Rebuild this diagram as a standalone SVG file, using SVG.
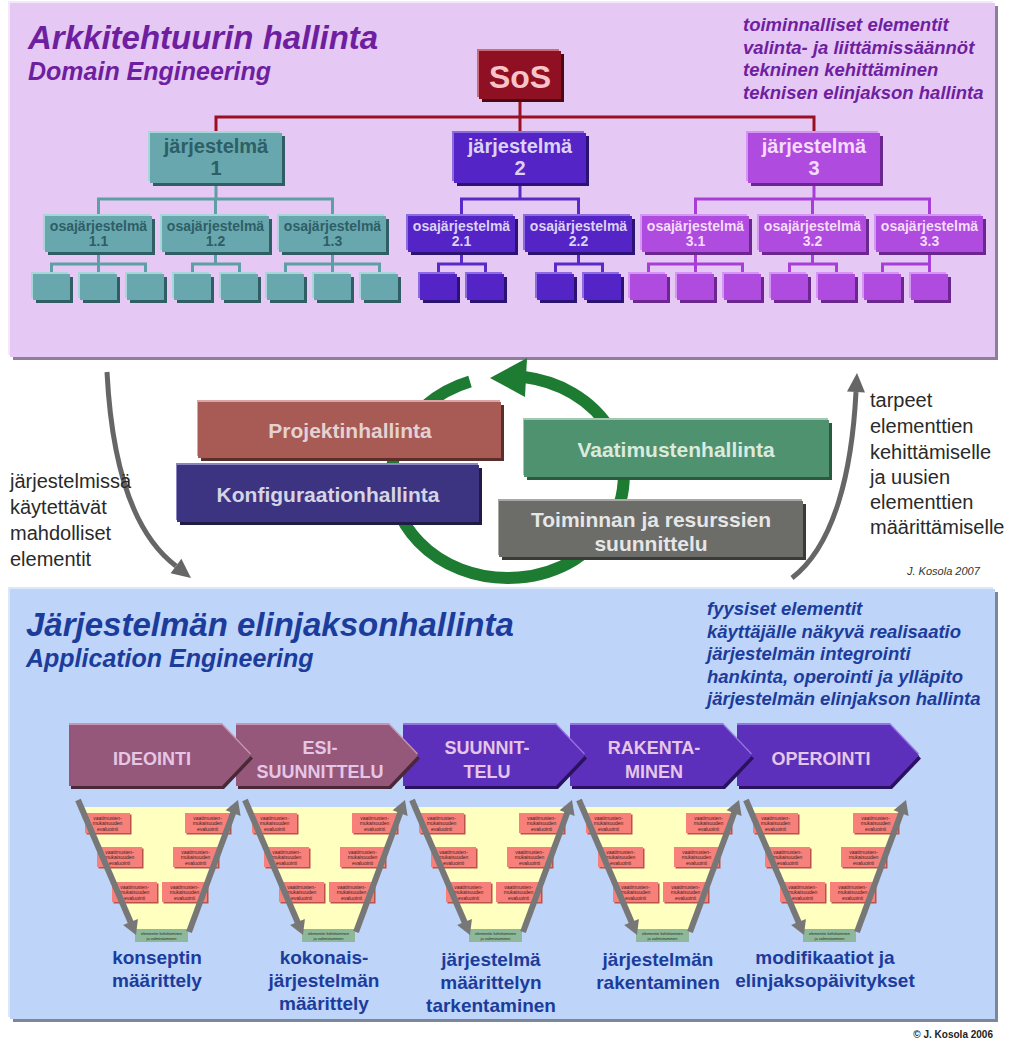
<svg xmlns="http://www.w3.org/2000/svg" xmlns:xlink="http://www.w3.org/1999/xlink" width="1012" height="1042" viewBox="0 0 1012 1042">
<style>
  text { font-family: 'Liberation Sans', Arial, sans-serif; }
  .title { font-size: 33px; font-weight: bold; font-style: italic; }
  .subtitle { font-size: 25px; font-weight: bold; font-style: italic; }
  .notes { font-size: 18.5px; font-weight: bold; font-style: italic; }
  .dom { fill: #6E1FA0; }
  .app { fill: #1C3C9C; }
  .sysl { font-size: 20px; font-weight: bold; text-anchor: middle; }
  .subl { font-size: 14px; font-weight: bold; text-anchor: middle; }
  .dark1 { fill: #2E5E66; }
  .light2 { fill: #DCD2F6; }
  .light3 { fill: #F4DCFA; }
  .f1 { fill: #68A7AD; } .h1 { fill: #A6D6D8; } .s1 { fill: #315E64; }
  .f2 { fill: #5524C6; } .h2 { fill: #8B6CE0; } .s2 { fill: #2C1272; }
  .f3 { fill: #B04BE0; } .h3 { fill: #D396F2; } .s3 { fill: #6C2690; }
  .c1 { stroke: #5E9FA6; } .c2 { stroke: #5A2AC8; } .c3 { stroke: #A83ED8; }
  .conn path { fill: none; stroke-width: 3; }
  .mbox { font-size: 21px; font-weight: bold; text-anchor: middle; }
  .side { font-size: 20px; fill: #2A2A2A; }
  .phase { font-size: 18px; font-weight: bold; text-anchor: middle; fill: #E6C6E6; }
  .res { font-size: 19px; font-weight: bold; text-anchor: middle; fill: #1C3C9C; }
  .tiny { font-size: 5px; text-anchor: middle; fill: #402020; }
  .tiny2 { font-size: 4px; text-anchor: middle; fill: #203020; }
  .grayarrow { fill: none; stroke: #666666; stroke-width: 5; }
</style>
<defs>
  <!-- bevelled leaf boxes, one per system colour -->
  <g id="leaf1"><rect class="s1" x="3" y="3" width="37" height="26"/><rect class="h1" x="-2" y="-2" width="37" height="26"/><rect class="f1" width="37" height="26"/></g>
  <g id="leaf2"><rect class="s2" x="3" y="3" width="37" height="26"/><rect class="h2" x="-2" y="-2" width="37" height="26"/><rect class="f2" width="37" height="26"/></g>
  <g id="leaf3"><rect class="s3" x="3" y="3" width="37" height="26"/><rect class="h3" x="-2" y="-2" width="37" height="26"/><rect class="f3" width="37" height="26"/></g>
  <!-- bevelled subsystem boxes -->
  <g id="sub1"><rect class="s1" x="3" y="3" width="107" height="36"/><rect class="h1" x="-2" y="-2" width="107" height="36"/><rect class="f1" width="107" height="36"/></g>
  <g id="sub2"><rect class="s2" x="3" y="3" width="107" height="36"/><rect class="h2" x="-2" y="-2" width="107" height="36"/><rect class="f2" width="107" height="36"/></g>
  <g id="sub3"><rect class="s3" x="3" y="3" width="107" height="36"/><rect class="h3" x="-2" y="-2" width="107" height="36"/><rect class="f3" width="107" height="36"/></g>
  <!-- evaluation box used inside each funnel -->
  <g id="evalbox">
    <rect x="1.5" y="1.5" width="45" height="20" fill="#B8524A"/>
    <rect width="45" height="20" fill="#F8807A"/>
    <text class="tiny"><tspan x="22.5" y="6.5">vaatimusten-</tspan><tspan x="22.5" y="12">mukaisuuden</tspan><tspan x="22.5" y="17.5">evaluointi</tspan></text>
  </g>
  <!-- one verification funnel (V shape) -->
  <g id="funnel">
    <polygon points="84,807 238,807 189,930 134,930" fill="#FFFFC0"/>
    <use xlink:href="#evalbox" x="85" y="813"/>
    <use xlink:href="#evalbox" x="185" y="813"/>
    <use xlink:href="#evalbox" x="97" y="847"/>
    <use xlink:href="#evalbox" x="173" y="847"/>
    <use xlink:href="#evalbox" x="112" y="882"/>
    <use xlink:href="#evalbox" x="162" y="882"/>
    <rect x="135" y="929" width="53" height="13" fill="#8FB89A"/>
    <text class="tiny2"><tspan x="161.5" y="934.5">elementin kehittäminen</tspan><tspan x="161.5" y="940">ja valmistaminen</tspan></text>
    <path d="M78,800 L131,923" stroke="#777" stroke-width="6" fill="none"/>
    <polygon points="136,935 123.1,925.1 137.9,918.9" fill="#777"/>
    <path d="M189,932 L233.5,812" stroke="#777" stroke-width="6" fill="none"/>
    <polygon points="238,800 240.6,815.9 225.6,810.3" fill="#777"/>
  </g>
  <!-- phase chevrons -->
  <g id="chev-m">
    <path d="M2,3 H155 L184,33.5 L155,64 H2 Z" fill="#4A2838"/>
    <path d="M0,-2 H153 L182,28.5 L153,59 H0 Z" fill="#C496B0"/>
    <path d="M0,0 H153 L182,30.5 L153,61 H0 Z" fill="#95587A"/>
  </g>
  <g id="chev-p">
    <path d="M2,3 H155 L184,33.5 L155,64 H2 Z" fill="#2A1260"/>
    <path d="M0,-2 H153 L182,28.5 L153,59 H0 Z" fill="#9474E0"/>
    <path d="M0,0 H153 L182,30.5 L153,61 H0 Z" fill="#5C30BA"/>
  </g>
</defs>

<rect width="1012" height="1042" fill="#FFFFFF"/>

<!-- Domain engineering panel -->
<g id="panel-domain">
  <rect x="13" y="6" width="985" height="354" fill="#8E7E9E"/>
  <rect x="8" y="1" width="985" height="354" fill="#F4E8FA"/>
  <rect x="10" y="3" width="985" height="354" fill="#E6C8F5"/>
  <text class="title dom" x="28" y="49">Arkkitehtuurin hallinta</text>
  <text class="subtitle dom" x="28" y="80">Domain Engineering</text>
  <text class="notes dom">
    <tspan x="743" y="31">toiminnalliset elementit</tspan>
    <tspan x="743" y="54">valinta- ja liittämissäännöt</tspan>
    <tspan x="743" y="76">tekninen kehittäminen</tspan>
    <tspan x="743" y="99">teknisen elinjakson hallinta</tspan>
  </text>
</g>

<!-- Application engineering panel -->
<g id="panel-application">
  <rect x="13" y="592" width="985" height="430" fill="#7C8898"/>
  <rect x="8" y="587" width="985" height="430" fill="#DCE8FA"/>
  <rect x="10" y="589" width="985" height="430" fill="#BED4F8"/>
  <text class="title app" x="26" y="636">Järjestelmän elinjaksonhallinta</text>
  <text class="subtitle app" x="26" y="667">Application Engineering</text>
  <text class="notes app">
    <tspan x="707" y="615">fyysiset elementit</tspan>
    <tspan x="707" y="637.5">käyttäjälle näkyvä realisaatio</tspan>
    <tspan x="707" y="660">järjestelmän integrointi</tspan>
    <tspan x="707" y="682.5">hankinta, operointi ja ylläpito</tspan>
    <tspan x="707" y="705">järjestelmän elinjakson hallinta</tspan>
  </text>
</g>

<!-- hierarchy connectors -->
<g id="connectors" class="conn">
  <path d="M520,99 V117 M216,133 V117 H814 V133 M520,117 V133" stroke="#9A1022" stroke-width="3"/>
  <path class="c1" d="M216,183 V199 M98.5,216 V199 H332.5 V216 M215.5,199 V216
    M98.5,252 V264 M51.5,274 V264 H145.5 V274 M98.5,264 V274
    M215.5,252 V264 M192.5,274 V264 H239.5 V274
    M332.5,252 V264 M285.5,274 V264 H379.5 V274 M332.5,264 V274"/>
  <path class="c2" d="M520,183 V199 M461.5,216 V199 H578.5 V216
    M461.5,252 V264 M438.5,274 V264 H485.5 V274
    M578.5,252 V264 M555.5,274 V264 H602.5 V274"/>
  <path class="c3" d="M814,183 V199 M695.5,216 V199 H929.5 V216 M812.5,199 V216
    M695.5,252 V264 M648.5,274 V264 H742.5 V274 M695.5,264 V274
    M812.5,252 V264 M789.5,274 V264 H836.5 V274
    M929.5,252 V264 M882.5,274 V264 H929.5 V274"/>
</g>

<!-- system of systems -->
<g id="node-sos">
  <rect x="482" y="54" width="82" height="48" fill="#4A0810"/>
  <rect x="477" y="49" width="82" height="48" fill="#C86C78"/>
  <rect x="479" y="51" width="82" height="48" fill="#8E1022"/>
  <text x="520" y="88" font-size="32" font-weight="bold" text-anchor="middle" fill="#F8C4CA">SoS</text>
</g>

<g id="node-sys1">
  <rect class="s1" x="153" y="136" width="132" height="50"/>
  <rect class="h1" x="148" y="131" width="132" height="50"/>
  <rect class="f1" x="150" y="133" width="132" height="50"/>
  <text class="sysl dark1"><tspan x="216" y="153">järjestelmä</tspan><tspan x="216" y="175">1</tspan></text>
</g>
<g id="node-sys2">
  <rect class="s2" x="457" y="136" width="132" height="50"/>
  <rect class="h2" x="452" y="131" width="132" height="50"/>
  <rect class="f2" x="454" y="133" width="132" height="50"/>
  <text class="sysl light2"><tspan x="520" y="153">järjestelmä</tspan><tspan x="520" y="175">2</tspan></text>
</g>
<g id="node-sys3">
  <rect class="s3" x="751" y="136" width="132" height="50"/>
  <rect class="h3" x="746" y="131" width="132" height="50"/>
  <rect class="f3" x="748" y="133" width="132" height="50"/>
  <text class="sysl light3"><tspan x="814" y="153">järjestelmä</tspan><tspan x="814" y="175">3</tspan></text>
</g>

<!-- subsystems -->
<g id="node-sub11"><use xlink:href="#sub1" x="45" y="216"/><text class="subl dark1"><tspan x="98.5" y="231">osajärjestelmä</tspan><tspan x="98.5" y="246">1.1</tspan></text></g>
<g id="node-sub12"><use xlink:href="#sub1" x="162" y="216"/><text class="subl dark1"><tspan x="215.5" y="231">osajärjestelmä</tspan><tspan x="215.5" y="246">1.2</tspan></text></g>
<g id="node-sub13"><use xlink:href="#sub1" x="279" y="216"/><text class="subl dark1"><tspan x="332.5" y="231">osajärjestelmä</tspan><tspan x="332.5" y="246">1.3</tspan></text></g>
<g id="node-sub21"><use xlink:href="#sub2" x="408" y="216"/><text class="subl light2"><tspan x="461.5" y="231">osajärjestelmä</tspan><tspan x="461.5" y="246">2.1</tspan></text></g>
<g id="node-sub22"><use xlink:href="#sub2" x="525" y="216"/><text class="subl light2"><tspan x="578.5" y="231">osajärjestelmä</tspan><tspan x="578.5" y="246">2.2</tspan></text></g>
<g id="node-sub31"><use xlink:href="#sub3" x="642" y="216"/><text class="subl light3"><tspan x="695.5" y="231">osajärjestelmä</tspan><tspan x="695.5" y="246">3.1</tspan></text></g>
<g id="node-sub32"><use xlink:href="#sub3" x="759" y="216"/><text class="subl light3"><tspan x="812.5" y="231">osajärjestelmä</tspan><tspan x="812.5" y="246">3.2</tspan></text></g>
<g id="node-sub33"><use xlink:href="#sub3" x="876" y="216"/><text class="subl light3"><tspan x="929.5" y="231">osajärjestelmä</tspan><tspan x="929.5" y="246">3.3</tspan></text></g>

<!-- leaf elements -->
<g id="leaves">
  <use id="leaf-11a" xlink:href="#leaf1" x="33" y="274"/>
  <use id="leaf-11b" xlink:href="#leaf1" x="80" y="274"/>
  <use id="leaf-11c" xlink:href="#leaf1" x="127" y="274"/>
  <use id="leaf-12a" xlink:href="#leaf1" x="174" y="274"/>
  <use id="leaf-12b" xlink:href="#leaf1" x="221" y="274"/>
  <use id="leaf-13a" xlink:href="#leaf1" x="267" y="274"/>
  <use id="leaf-13b" xlink:href="#leaf1" x="314" y="274"/>
  <use id="leaf-13c" xlink:href="#leaf1" x="361" y="274"/>
  <use id="leaf-21a" xlink:href="#leaf2" x="420" y="274"/>
  <use id="leaf-21b" xlink:href="#leaf2" x="467" y="274"/>
  <use id="leaf-22a" xlink:href="#leaf2" x="537" y="274"/>
  <use id="leaf-22b" xlink:href="#leaf2" x="584" y="274"/>
  <use id="leaf-31a" xlink:href="#leaf3" x="630" y="274"/>
  <use id="leaf-31b" xlink:href="#leaf3" x="677" y="274"/>
  <use id="leaf-31c" xlink:href="#leaf3" x="724" y="274"/>
  <use id="leaf-32a" xlink:href="#leaf3" x="771" y="274"/>
  <use id="leaf-32b" xlink:href="#leaf3" x="818" y="274"/>
  <use id="leaf-33a" xlink:href="#leaf3" x="864" y="274"/>
  <use id="leaf-33b" xlink:href="#leaf3" x="911" y="274"/>
</g>

<!-- side flows between the panels -->
<g id="flow-down">
  <path class="grayarrow" d="M107,372 C112,470 135,535 176,566"/>
  <polygon points="191,578 170.6,573.2 181.4,558.8" fill="#666666"/>
  <text class="side"><tspan x="10" y="488">järjestelmissä</tspan><tspan x="10" y="514">käytettävät</tspan><tspan x="10" y="540">mahdolliset</tspan><tspan x="10" y="566">elementit</tspan></text>
</g>
<g id="flow-up">
  <path class="grayarrow" d="M792,578 C835,545 852,470 856,392"/>
  <polygon points="857,373 865,392.5 847,391.5" fill="#666666"/>
  <text class="side"><tspan x="870" y="407">tarpeet</tspan><tspan x="870" y="433">elementtien</tspan><tspan x="870" y="459">kehittämiselle</tspan><tspan x="870" y="484">ja uusien</tspan><tspan x="870" y="509">elementtien</tspan><tspan x="870" y="534">määrittämiselle</tspan></text>
  <text x="907" y="575" font-size="11" font-style="italic" fill="#333">J. Kosola 2007</text>
</g>

<!-- management cycle -->
<g id="cycle">
  <path d="M470,381.5 A116,101 0 1 0 524,377" fill="none" stroke="#1E7B32" stroke-width="12"/>
  <polygon points="490,378 527,358 525,397" fill="#1E7B32"/>
</g>

<g id="node-projekti">
  <rect x="201" y="405" width="303" height="56" fill="#5C2E2B"/>
  <rect x="197" y="400" width="303" height="56" fill="#D8A6A4"/>
  <rect x="198" y="402" width="303" height="56" fill="#A85A55"/>
  <text class="mbox" x="350" y="438" fill="#E4D2D2">Projektinhallinta</text>
</g>
<g id="node-vaatimus">
  <rect x="527" y="423" width="305" height="57" fill="#2C5A40"/>
  <rect x="523" y="418" width="305" height="57" fill="#A2C8B2"/>
  <rect x="524" y="420" width="305" height="57" fill="#4F9270"/>
  <text class="mbox" x="676" y="457" fill="#DCEADE">Vaatimustenhallinta</text>
</g>
<g id="node-konfig">
  <rect x="180" y="468" width="302" height="57" fill="#201C48"/>
  <rect x="176" y="463" width="302" height="57" fill="#8A84C0"/>
  <rect x="177" y="465" width="302" height="57" fill="#3C3480"/>
  <text class="mbox" x="328" y="502" fill="#D4D4E4">Konfiguraationhallinta</text>
</g>
<g id="node-toiminta">
  <rect x="502" y="504" width="304" height="56" fill="#3A3A38"/>
  <rect x="498" y="499" width="304" height="56" fill="#A8A8A4"/>
  <rect x="499" y="501" width="304" height="56" fill="#6C6C68"/>
  <text class="mbox" fill="#E6E6E6"><tspan x="651" y="527">Toiminnan ja resurssien</tspan><tspan x="651" y="551">suunnittelu</tspan></text>
</g>

<!-- lifecycle phases (drawn right to left so each tip overlaps the next) -->
<g id="phase-5"><use xlink:href="#chev-p" x="737" y="725"/><text class="phase" x="821" y="765">OPEROINTI</text></g>
<g id="phase-4"><use xlink:href="#chev-p" x="570" y="725"/><text class="phase"><tspan x="654" y="754">RAKENTA-</tspan><tspan x="654" y="778">MINEN</tspan></text></g>
<g id="phase-3"><use xlink:href="#chev-p" x="403" y="725"/><text class="phase"><tspan x="487" y="754">SUUNNIT-</tspan><tspan x="487" y="778">TELU</tspan></text></g>
<g id="phase-2"><use xlink:href="#chev-m" x="236" y="725"/><text class="phase"><tspan x="320" y="754">ESI-</tspan><tspan x="320" y="778">SUUNNITTELU</tspan></text></g>
<g id="phase-1"><use xlink:href="#chev-m" x="69" y="725"/><text class="phase" x="152" y="765">IDEOINTI</text></g>

<!-- verification funnels and their results -->
<g id="funnel-1"><use xlink:href="#funnel" x="0" y="0"/>
  <text class="res"><tspan x="157" y="964">konseptin</tspan><tspan x="157" y="987">määrittely</tspan></text></g>
<g id="funnel-2"><use xlink:href="#funnel" x="167" y="0"/>
  <text class="res"><tspan x="324" y="964">kokonais-</tspan><tspan x="324" y="987">järjestelmän</tspan><tspan x="324" y="1010">määrittely</tspan></text></g>
<g id="funnel-3"><use xlink:href="#funnel" x="334" y="0"/>
  <text class="res"><tspan x="491" y="966">järjestelmä</tspan><tspan x="491" y="989">määrittelyn</tspan><tspan x="491" y="1012">tarkentaminen</tspan></text></g>
<g id="funnel-4"><use xlink:href="#funnel" x="501" y="0"/>
  <text class="res"><tspan x="658" y="966">järjestelmän</tspan><tspan x="658" y="989">rakentaminen</tspan></text></g>
<g id="funnel-5"><use xlink:href="#funnel" x="668" y="0"/>
  <text class="res"><tspan x="825" y="964">modifikaatiot ja</tspan><tspan x="825" y="987">elinjaksopäivitykset</tspan></text></g>

<text x="993" y="1038" font-size="10" font-weight="bold" text-anchor="end" fill="#222">© J. Kosola 2006</text>
</svg>
